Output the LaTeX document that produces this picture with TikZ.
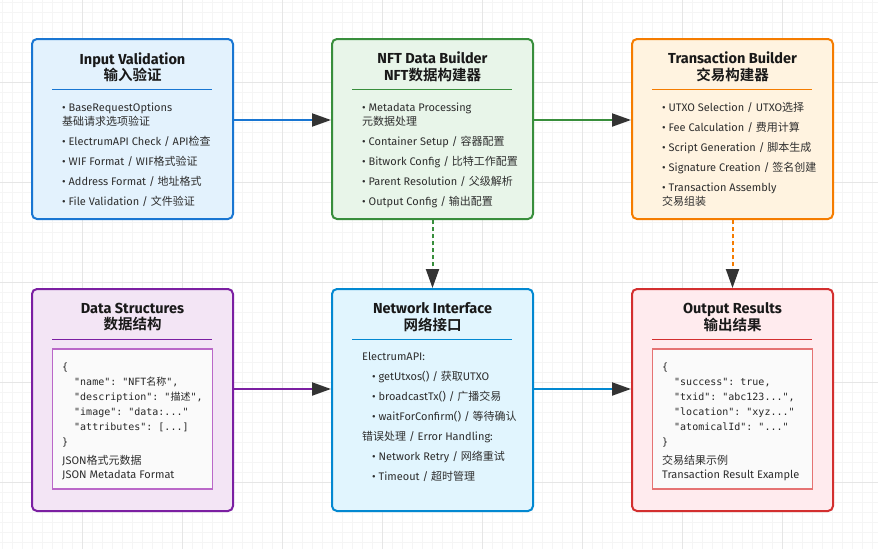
\documentclass[tikz,border=0pt]{standalone}
\usepackage{fontspec}
\setmainfont{Fira Sans}
\setmonofont{DejaVu Sans Mono}
\newfontfamily\cjk{Noto Sans CJK SC}[BoldFont={Noto Sans CJK SC Bold}]
\usetikzlibrary{positioning,arrows.meta}

\definecolor{validline}{HTML}{1976D2}
\definecolor{validbg}{HTML}{E3F2FD}
\definecolor{nftline}{HTML}{388E3C}
\definecolor{nftbg}{HTML}{E8F5E9}
\definecolor{txbline}{HTML}{F57C00}
\definecolor{txbbg}{HTML}{FFF3E0}
\definecolor{dataline}{HTML}{7B1FA2}
\definecolor{databg}{HTML}{F3E5F5}
\definecolor{datacode}{HTML}{BA68C8}
\definecolor{netline}{HTML}{0288D1}
\definecolor{netbg}{HTML}{E1F5FE}
\definecolor{outline}{HTML}{D32F2F}
\definecolor{outbg}{HTML}{FFEBEE}
\definecolor{outcode}{HTML}{E57373}
\definecolor{codebg}{HTML}{FAFAFA}
\definecolor{tipgray}{HTML}{333333}
\definecolor{gridfine}{HTML}{F5F5F5}
\definecolor{gridmajor}{HTML}{E6E6E6}

\newcommand\zh[1]{{\cjk #1}}
\newcommand\codeind{\hspace*{12pt}}

\begin{document}
\begin{tikzpicture}[x=1pt,y=-1pt,
    panel/.style={draw, rounded corners=5pt, line width=2pt, minimum width=201pt, inner sep=0pt},
    toprow/.style={panel, minimum height=180pt},
    lowrow/.style={panel, minimum height=222pt},
    heading/.style={font=\fontsize{14.5}{16.5}\selectfont\bfseries, text=black!90, align=center},
    items/.style={font=\fontsize{11}{14}\selectfont, text=black!82, align=left, anchor=north west, inner sep=0pt},
    code/.style={font=\ttfamily\fontsize{10}{15}\selectfont, text=black!85, align=left, anchor=north west, inner sep=0pt},
    codebox/.style={draw, line width=1.5pt, fill=codebg, minimum width=160pt, minimum height=140pt, anchor=north, inner sep=0pt},
    rule/.style={line width=1pt},
    flow/.style={line width=2pt, -{Triangle[length=19pt,width=13pt,color=tipgray]}},
    link/.style={flow, dash pattern=on 4pt off 3pt},
  ]
  \useasboundingbox (0,0) rectangle (878,549);
  \fill[white] (0,0) rectangle (878,549);
  % background grid
  \foreach \g in {2.7,12.7,...,878} \draw[gridfine, line width=0.8pt] (\g,0) -- (\g,549);
  \foreach \g in {2.7,12.7,...,549} \draw[gridfine, line width=0.8pt] (0,\g) -- (878,\g);
  \foreach \g in {82.7,182.7,...,878} \draw[gridmajor, line width=0.8pt] (\g,0) -- (\g,549);
  \foreach \g in {82.7,182.7,...,549} \draw[gridmajor, line width=0.8pt] (0,\g) -- (878,\g);

  % boxes
  \node[toprow, draw=validline, fill=validbg] (valid) at (132.5,129) {};
  \node[toprow, draw=nftline, fill=nftbg, right=97pt of valid] (nft) {};
  \node[toprow, draw=txbline, fill=txbbg, right=97pt of nft] (txb) {};
  \node[lowrow, draw=dataline, fill=databg, below=68pt of valid] (data) {};
  \node[lowrow, draw=netline, fill=netbg, below=68pt of nft] (net) {};
  \node[lowrow, draw=outline, fill=outbg, below=68pt of txb] (out) {};

  % titles
  \node[heading] (validhead) at ([yshift=-29pt]valid.north) {Input Validation\\\zh{输入验证}};
  \node[heading] (nfthead) at ([yshift=-29pt]nft.north) {NFT Data Builder\\NFT\zh{数据构建器}};
  \node[heading] (txbhead) at ([yshift=-29pt]txb.north) {Transaction Builder\\\zh{交易构建器}};
  \node[heading] (datahead) at ([yshift=-29pt]data.north) {Data Structures\\\zh{数据结构}};
  \node[heading] (nethead) at ([yshift=-29pt]net.north) {Network Interface\\\zh{网络接口}};
  \node[heading] (outhead) at ([yshift=-29pt]out.north) {Output Results\\\zh{输出结果}};

  \foreach \b/\c in {valid/validline, nft/nftline, txb/txbline, data/dataline, net/netline, out/outline}
    \draw[rule, \c] ([xshift=21pt,yshift=-51.7pt]\b.north west) -- ([xshift=-22pt,yshift=-51.7pt]\b.north east);

  % contents
  \node[items] (validlist) at ([xshift=31pt,yshift=-64.4pt]valid.north west)
    {• BaseRequestOptions\\\zh{基础请求选项验证}\\[6pt]
     • ElectrumAPI Check / API\zh{检查}\\[6pt]
     • WIF Format / WIF\zh{格式验证}\\[6pt]
     • Address Format / \zh{地址格式}\\[6pt]
     • File Validation / \zh{文件验证}};
  \node[items] (nftlist) at ([xshift=31pt,yshift=-64.4pt]nft.north west)
    {• Metadata Processing\\\zh{元数据处理}\\[6pt]
     • Container Setup / \zh{容器配置}\\[6pt]
     • Bitwork Config / \zh{比特工作配置}\\[6pt]
     • Parent Resolution / \zh{父级解析}\\[6pt]
     • Output Config / \zh{输出配置}};
  \node[items] (txblist) at ([xshift=31pt,yshift=-64.4pt]txb.north west)
    {• UTXO Selection / UTXO\zh{选择}\\[6pt]
     • Fee Calculation / \zh{费用计算}\\[6pt]
     • Script Generation / \zh{脚本生成}\\[6pt]
     • Signature Creation / \zh{签名创建}\\[6pt]
     • Transaction Assembly\\\zh{交易组装}};
  \node[items] (netlist) at ([xshift=31pt,yshift=-64.4pt]net.north west)
    {ElectrumAPI:\\[6pt]
     \hspace*{10pt}• getUtxos() / \zh{获取}UTXO\\[6pt]
     \hspace*{10pt}• broadcastTx() / \zh{广播交易}\\[6pt]
     \hspace*{10pt}• waitForConfirm() / \zh{等待确认}\\[6pt]
     \zh{错误处理} / Error Handling:\\[6pt]
     \hspace*{10pt}• Network Retry / \zh{网络重试}\\[6pt]
     \hspace*{10pt}• Timeout / \zh{超时管理}};

  \node[codebox, draw=datacode] (datacodebox) at ([yshift=-60pt]data.north) {};
  \node[code] (datajson) at ([xshift=31pt,yshift=-75pt]data.north west)
    {\{\\
     \codeind"name": "NFT\zh{名称}",\\
     \codeind"description": "\zh{描述}",\\
     \codeind"image": "data:..."\\
     \codeind"attributes": [...]\\
     \}};
  \node[items] (datanote) at ([xshift=31pt,yshift=-167pt]data.north west)
    {JSON\zh{格式元数据}\\JSON Metadata Format};

  \node[codebox, draw=outcode] (outcodebox) at ([yshift=-60pt]out.north) {};
  \node[code] (outjson) at ([xshift=31pt,yshift=-75pt]out.north west)
    {\{\\
     \codeind"success": true,\\
     \codeind"txid": "abc123...",\\
     \codeind"location": "xyz..."\\
     \codeind"atomicalId": "..."\\
     \}};
  \node[items] (outnote) at ([xshift=31pt,yshift=-167pt]out.north west)
    {\zh{交易结果示例}\\Transaction Result Example};

  % connectors
  \draw[flow, validline] ([yshift=9pt]valid.east) -- ([yshift=9pt]nft.west);
  \draw[flow, nftline] ([yshift=9pt]nft.east) -- ([yshift=9pt]txb.west);
  \draw[link, nftline] (nft) -- (net);
  \draw[link, txbline] (txb) -- (out);
  \draw[flow, dataline] ([yshift=11pt]data.east) -- ([yshift=11pt]net.west);
  \draw[flow, netline] ([yshift=11pt]net.east) -- ([yshift=11pt]out.west);
\end{tikzpicture}
\end{document}
